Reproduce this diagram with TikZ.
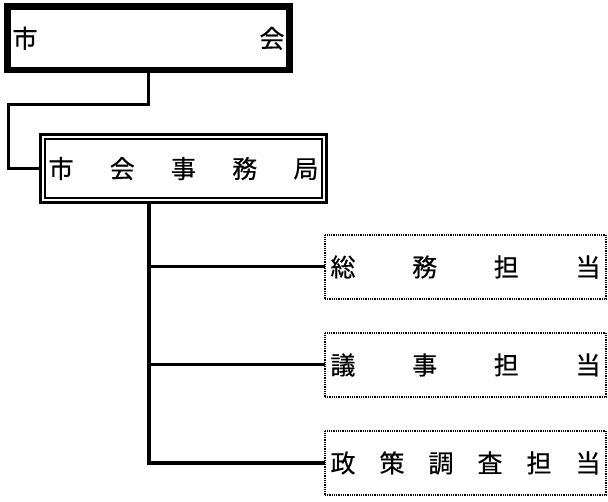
\documentclass[tikz,border=0pt]{standalone}
\usepackage{fontspec}
\newfontfamily\jp[FakeBold=0.4]{Noto Sans CJK JP}
\begin{document}
\begin{tikzpicture}[x=1pt,y=1pt,
  every node/.style={font=\jp\fontsize{25}{25}\selectfont, inner sep=0pt, outer sep=0pt},
  topbox/.style={draw, line width=6.5pt, minimum width=282pt, minimum height=63.5pt},
  officebox/.style={draw, line width=3pt, minimum width=286pt, minimum height=68pt},
  unitbox/.style={draw, line width=2pt, dash pattern=on 1pt off 0.8pt, minimum width=281pt, minimum height=64pt},
  conn/.style={line width=3pt},
  trunk/.style={line width=3.5pt}]
\useasboundingbox (0,0) rectangle (608,501);
\node[topbox] (b1) at (148.5,462.75) {\hbox to 272pt{市\hfill 会}};
\node[officebox] (b2) at (183.5,332.5) {\hbox to 270pt{市\hfill 会\hfill 事\hfill 務\hfill 局}};
\draw[line width=2pt] ([shift={(4.5pt,4.5pt)}]b2.south west) rectangle ([shift={(-4.5pt,-4.5pt)}]b2.north east);
\node[unitbox] (s1) at (465.5,234) {\hbox to 270pt{総\hfill 務\hfill 担\hfill 当}};
\node[unitbox] (s2) at (465.5,136) {\hbox to 270pt{議\hfill 事\hfill 担\hfill 当}};
\node[unitbox] (s3) at (465.5,38) {\hbox to 270pt{政\hfill 策\hfill 調\hfill 査\hfill 担\hfill 当}};
\coordinate (j1) at (8,396);
\draw[conn] (b1.south) |- (j1) |- (b2.west);
\coordinate (t) at (149,38);
\draw[trunk] (b2.south -| t) |- (s3.west);
\draw[conn] (t |- s1.west) -- (s1.west);
\draw[conn] (t |- s2.west) -- (s2.west);
\end{tikzpicture}
\end{document}
